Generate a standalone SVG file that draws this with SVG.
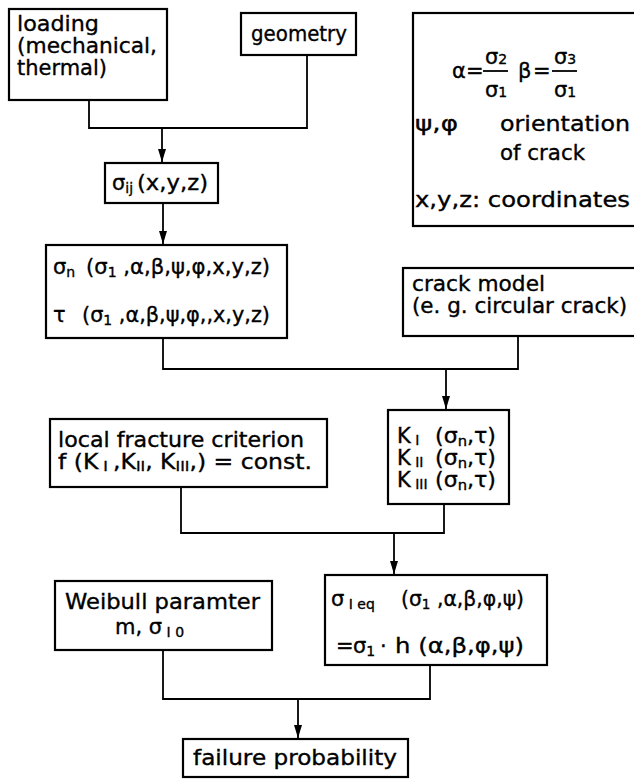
<svg xmlns="http://www.w3.org/2000/svg" width="634" height="779" viewBox="0 0 634 779">
<defs>
<style>
.box{fill:#fff;stroke:#000;stroke-width:2.2}
.ln{fill:none;stroke:#000;stroke-width:1.8}
text{font-family:"DejaVu Sans","Liberation Sans",sans-serif;font-size:21px;fill:#000;stroke:#000;stroke-width:0.35;white-space:pre}
.sub{font-size:14px}
</style>
<marker id="ah" markerUnits="userSpaceOnUse" markerWidth="13" markerHeight="8" refX="13" refY="4" orient="auto">
<path d="M0,0 L13,4 L0,8 z" fill="#000"/>
</marker>
</defs>
<rect width="634" height="779" fill="#fff"/>

<g id="connectors">
<path class="ln" d="M89,100 V128 H307 V55"/>
<path class="ln" d="M162,128 V162" marker-end="url(#ah)"/>
<path class="ln" d="M163,203 V244" marker-end="url(#ah)"/>
<path class="ln" d="M163,338 V369 H518 V336"/>
<path class="ln" d="M446,369 V409" marker-end="url(#ah)"/>
<path class="ln" d="M181,487 V533 H444 V504"/>
<path class="ln" d="M394,533 V574" marker-end="url(#ah)"/>
<path class="ln" d="M163,650 V699 H430 V665"/>
<path class="ln" d="M298,699 V738" marker-end="url(#ah)"/>
</g>

<g id="loading">
<rect class="box" x="9" y="9" width="158" height="91"/>
<text x="17" y="31" textLength="82" lengthAdjust="spacingAndGlyphs">loading</text>
<text x="17" y="53" textLength="140" lengthAdjust="spacingAndGlyphs">(mechanical,</text>
<text x="17" y="75" textLength="90" lengthAdjust="spacingAndGlyphs">thermal)</text>
</g>

<g id="geometry">
<rect class="box" x="241" y="13" width="115" height="42"/>
<text x="251" y="41" textLength="96" lengthAdjust="spacingAndGlyphs">geometry</text>
</g>

<g id="legend">
<rect class="box" x="413" y="13" width="240" height="213"/>
<text x="452" y="78">α</text>
<text x="466" y="78">=</text>
<line class="ln" x1="483" y1="71" x2="508" y2="71"/>
<text x="485" y="64">σ<tspan class="sub">2</tspan></text>
<text x="485" y="97">σ<tspan class="sub">1</tspan></text>
<text x="518" y="78">β</text>
<text x="533" y="78">=</text>
<line class="ln" x1="552" y1="71" x2="577" y2="71"/>
<text x="554" y="64">σ<tspan class="sub">3</tspan></text>
<text x="554" y="97">σ<tspan class="sub">1</tspan></text>
<text x="415" y="131" textLength="43" lengthAdjust="spacingAndGlyphs">ψ,φ</text>
<text x="500" y="131" textLength="130" lengthAdjust="spacingAndGlyphs">orientation</text>
<text x="500" y="160" textLength="85" lengthAdjust="spacingAndGlyphs">of crack</text>
<text x="415" y="207" textLength="215" lengthAdjust="spacingAndGlyphs">x,y,z: coordinates</text>
</g>

<g id="sigma-ij">
<rect class="box" x="105" y="163" width="113" height="40"/>
<text x="112" y="190">σ<tspan class="sub" dy="3">ij</tspan></text>
<text x="137" y="190" textLength="71" lengthAdjust="spacingAndGlyphs">(x,y,z)</text>
</g>

<g id="sigma-n-tau">
<rect class="box" x="46" y="245" width="241" height="93"/>
<text x="53" y="274">σ<tspan class="sub" dy="3">n</tspan></text>
<text x="86" y="274" textLength="184" lengthAdjust="spacingAndGlyphs">(σ<tspan class="sub" dy="3">1</tspan><tspan dy="-3"> ,α,β,ψ,φ,x,y,z)</tspan></text>
<text x="53" y="322">τ</text>
<text x="82" y="322" textLength="188" lengthAdjust="spacingAndGlyphs">(σ<tspan class="sub" dy="3">1</tspan><tspan dy="-3"> ,α,β,ψ,φ,,x,y,z)</tspan></text>
</g>

<g id="crack-model">
<rect class="box" x="403" y="268" width="250" height="68"/>
<text x="412" y="291" textLength="133" lengthAdjust="spacingAndGlyphs">crack model</text>
<text x="412" y="313" textLength="215" lengthAdjust="spacingAndGlyphs">(e. g. circular crack)</text>
</g>

<g id="stress-intensity">
<rect class="box" x="388" y="410" width="121" height="94"/>
<text x="397" y="443">K<tspan class="sub" dy="2"> I</tspan></text>
<text x="435" y="443" textLength="61" lengthAdjust="spacingAndGlyphs">(σ<tspan class="sub" dy="3">n</tspan><tspan dy="-3">,τ)</tspan></text>
<text x="397" y="465">K<tspan class="sub" dy="2"> II</tspan></text>
<text x="435" y="465" textLength="61" lengthAdjust="spacingAndGlyphs">(σ<tspan class="sub" dy="3">n</tspan><tspan dy="-3">,τ)</tspan></text>
<text x="397" y="487">K<tspan class="sub" dy="2"> III</tspan></text>
<text x="435" y="487" textLength="61" lengthAdjust="spacingAndGlyphs">(σ<tspan class="sub" dy="3">n</tspan><tspan dy="-3">,τ)</tspan></text>
</g>

<g id="fracture-criterion">
<rect class="box" x="50" y="419" width="277" height="68"/>
<text x="58" y="447" textLength="246" lengthAdjust="spacingAndGlyphs">local fracture criterion</text>
<text x="58" y="469" textLength="254" lengthAdjust="spacingAndGlyphs">f (K<tspan class="sub" dy="2"> I </tspan><tspan dy="-2">,K</tspan><tspan class="sub" dy="2">II</tspan><tspan dy="-2">, K</tspan><tspan class="sub" dy="2">III</tspan><tspan dy="-2">,) = const.</tspan></text>
</g>

<g id="weibull">
<rect class="box" x="55" y="581" width="217" height="69"/>
<text x="65" y="609" textLength="195" lengthAdjust="spacingAndGlyphs">Weibull paramter</text>
<text x="115" y="634">m, σ<tspan class="sub" dy="3"> I 0</tspan></text>
</g>

<g id="sigma-eq">
<rect class="box" x="325" y="575" width="222" height="90"/>
<text x="331" y="606">σ<tspan class="sub" dy="3"> I eq</tspan></text>
<text x="401" y="606" textLength="123" lengthAdjust="spacingAndGlyphs">(σ<tspan class="sub" dy="3">1</tspan><tspan dy="-3"> ,α,β,φ,ψ)</tspan></text>
<text x="336" y="653">=</text>
<text x="353" y="653">σ<tspan class="sub" dy="3">1</tspan></text>
<text x="380" y="653">·</text>
<text x="395" y="653" textLength="129" lengthAdjust="spacingAndGlyphs">h (α,β,φ,ψ)</text>
</g>

<g id="failure-probability">
<rect class="box" x="183" y="739" width="225" height="38"/>
<text x="193" y="765" textLength="204" lengthAdjust="spacingAndGlyphs">failure probability</text>
</g>
</svg>
